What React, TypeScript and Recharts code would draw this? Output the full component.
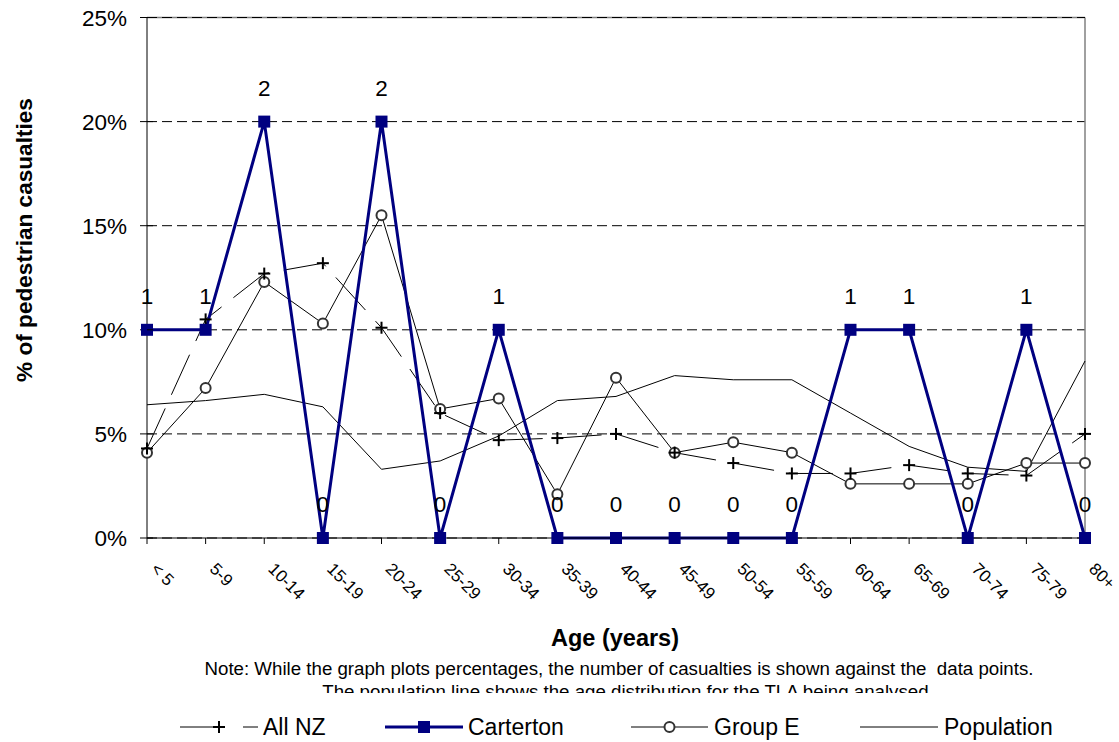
import { LineChart, Line, XAxis, YAxis, CartesianGrid, ReferenceLine, LabelList, Legend } from "recharts";

const FONT = "'Liberation Sans', Arial, sans-serif";

const ageGroups = ["< 5", "5-9", "10-14", "15-19", "20-24", "25-29", "30-34", "35-39", "40-44", "45-49", "50-54", "55-59", "60-64", "65-69", "70-74", "75-79", "80+"];
const cartertonPct = [10, 10, 20, 0, 20, 0, 10, 0, 0, 0, 0, 0, 10, 10, 0, 10, 0];
const cartertonCount = [1, 1, 2, 0, 2, 0, 1, 0, 0, 0, 0, 0, 1, 1, 0, 1, 0];
const allNzPct = [4.3, 10.5, 12.7, 13.2, 10.1, 6.0, 4.7, 4.8, 5.0, 4.1, 3.6, 3.1, 3.1, 3.5, 3.1, 3.0, 5.0];
const groupEPct = [4.1, 7.2, 12.3, 10.3, 15.5, 6.2, 6.7, 2.1, 7.7, 4.1, 4.6, 4.1, 2.6, 2.6, 2.6, 3.6, 3.6];
const populationPct = [6.4, 6.6, 6.9, 6.3, 3.3, 3.7, 4.9, 6.6, 6.8, 7.8, 7.6, 7.6, 6.0, 4.4, 3.4, 3.2, 8.5];
const yTicks = [0, 5, 10, 15, 20, 25];

const data = ageGroups.map((age, i) => ({
  age,
  carterton: cartertonPct[i],
  count: cartertonCount[i],
  allNz: allNzPct[i],
  groupE: groupEPct[i],
  population: populationPct[i],
}));

const NAVY = "#000080";

const PlusDot = (props: any) => {
  const { cx, cy } = props;
  if (cx == null || cy == null) return null;
  return (
    <g>
      <line x1={cx - 6} x2={cx + 6} y1={cy} y2={cy} stroke="#000" strokeWidth={2} />
      <line x1={cx} x2={cx} y1={cy - 6} y2={cy + 6} stroke="#000" strokeWidth={2} />
    </g>
  );
};

const CircleDot = (props: any) => {
  const { cx, cy } = props;
  if (cx == null || cy == null) return null;
  return <circle cx={cx} cy={cy} r={5} fill="#fff" stroke="#333" strokeWidth={2} />;
};

const SquareDot = (props: any) => {
  const { cx, cy } = props;
  if (cx == null || cy == null) return null;
  return <rect x={cx - 6} y={cy - 6} width={12} height={12} fill={NAVY} />;
};

const YTick = (props: any) => {
  const { x, y, payload } = props;
  return (
    <g>
      <line x1={x + 7} x2={x + 13} y1={y} y2={y} stroke="#000" />
      <text x={x - 13} y={y} dy="0.36em" textAnchor="end" fontSize={22.5} fontFamily={FONT} fill="#000">
        {payload.value}%
      </text>
    </g>
  );
};

const XTick = (props: any) => {
  const { x, y, payload } = props;
  return (
    <text transform={`translate(${x + 3},${y + 24}) rotate(45)`} x={0} y={0} textAnchor="start" fontSize={17} fontFamily={FONT} fill="#000">
      {payload.value}
    </text>
  );
};

const legendLayout = [
  { name: "All NZ", x0: 180, x1: 258, tx: 263 },
  { name: "Carterton", x0: 385, x1: 463, tx: 468 },
  { name: "Group E", x0: 631, x1: 708, tx: 714 },
  { name: "Population", x0: 860, x1: 938, tx: 944 },
];

const renderLegend = () => (
  <svg width={1119} height={40} style={{ display: "block" }}>
    {legendLayout.map((it, i) => {
      const cx = (it.x0 + it.x1) / 2;
      return (
        <g key={it.name}>
          {i === 0 && (
            <>
              <line x1={it.x0} x2={it.x1} y1={20} y2={20} stroke="#000" strokeDasharray="45 18" />
              <PlusDot cx={cx} cy={20} />
            </>
          )}
          {i === 1 && (
            <>
              <line x1={it.x0} x2={it.x1} y1={20} y2={20} stroke={NAVY} strokeWidth={3} />
              <SquareDot cx={cx} cy={20} />
            </>
          )}
          {i === 2 && (
            <>
              <line x1={it.x0} x2={it.x1} y1={20} y2={20} stroke="#000" />
              <CircleDot cx={cx} cy={20} />
            </>
          )}
          {i === 3 && <line x1={it.x0} x2={it.x1} y1={20} y2={20} stroke="#000" />}
          <text x={it.tx} y={28} fontSize={23} fontFamily={FONT} fill="#000">
            {it.name}
          </text>
        </g>
      );
    })}
  </svg>
);

export default function App() {
  return (
    <div style={{ position: "absolute", left: 0, top: 0, width: 1119, height: 742, background: "#fff" }}>
      <LineChart width={1119} height={742} data={data} margin={{ top: 17.5, right: 34, left: 0, bottom: 0 }}>
        <CartesianGrid vertical={false} stroke="#000" strokeDasharray="10 5" />
        <XAxis dataKey="age" height={204} interval={0} tick={<XTick />} axisLine={{ stroke: "#000" }} tickLine={{ stroke: "#000" }} />
        <YAxis width={147} domain={[0, 25]} ticks={yTicks} interval={0} tick={<YTick />} tickSize={7} tickMargin={0} axisLine={{ stroke: "#000" }} tickLine={{ stroke: "#000" }} />
        <ReferenceLine x="80+" stroke="#808080" strokeWidth={1.5} />
        <ReferenceLine y={25} stroke="#808080" strokeWidth={1.5} />
        <ReferenceLine y={25} stroke="#000" strokeDasharray="10 5" />
        <Line dataKey="population" name="Population" stroke="#000" strokeWidth={1} dot={false} activeDot={false} isAnimationActive={false} />
        <Line dataKey="groupE" name="Group E" stroke="#000" strokeWidth={1} dot={<CircleDot />} activeDot={false} isAnimationActive={false} />
        <Line dataKey="allNz" name="All NZ" stroke="#000" strokeWidth={1} strokeDasharray="44 15" dot={<PlusDot />} activeDot={false} isAnimationActive={false} />
        <Line dataKey="carterton" name="Carterton" stroke={NAVY} strokeWidth={3} dot={<SquareDot />} activeDot={false} isAnimationActive={false}>
          <LabelList dataKey="count" position="top" offset={26} fill="#000" fontSize={22.5} fontFamily={FONT} />
        </Line>
        <Legend content={renderLegend} layout="horizontal" verticalAlign="middle" align="center" wrapperStyle={{ top: 707, left: 0, width: 1119, height: 40 }} />
      </LineChart>
      <svg width={1119} height={742} style={{ position: "absolute", left: 0, top: 0, pointerEvents: "none" }}>
        <defs>
          <clipPath id="noteClip">
            <rect x={0} y={600} width={1119} height={93} />
          </clipPath>
        </defs>
        <text transform="translate(32,240) rotate(-90)" textAnchor="middle" fontSize={22.6} fontWeight="bold" fontFamily={FONT} fill="#000">
          % of pedestrian casualties
        </text>
        <text x={615} y={646} textAnchor="middle" fontSize={23.5} fontWeight="bold" fontFamily={FONT} fill="#000">
          Age (years)
        </text>
        <text x={619} y={675} textAnchor="middle" fontSize={18.7} fontFamily={FONT} fill="#000" style={{ whiteSpace: "pre" }}>
          Note: While the graph plots percentages, the number of casualties is shown against the  data points.
        </text>
        <text x={628} y={698} textAnchor="middle" fontSize={18.7} fontFamily={FONT} fill="#000" clipPath="url(#noteClip)">
          The population line shows the age distribution for the TLA being analysed.
        </text>
      </svg>
    </div>
  );
}
